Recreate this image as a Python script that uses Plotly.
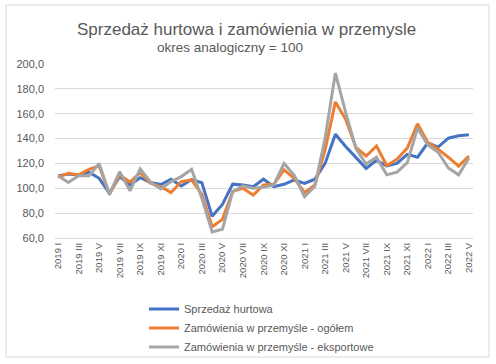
import plotly.graph_objects as go

months = ["2019 I", "2019 II", "2019 III", "2019 IV", "2019 V", "2019 VI", "2019 VII", "2019 VIII",
          "2019 IX", "2019 X", "2019 XI", "2019 XII",
          "2020 I", "2020 II", "2020 III", "2020 IV", "2020 V", "2020 VI", "2020 VII", "2020 VIII",
          "2020 IX", "2020 X", "2020 XI", "2020 XII",
          "2021 I", "2021 II", "2021 III", "2021 IV", "2021 V", "2021 VI", "2021 VII", "2021 VIII",
          "2021 IX", "2021 X", "2021 XI", "2021 XII",
          "2022 I", "2022 II", "2022 III", "2022 IV", "2022 V"]

sprzedaz_hurtowa = [110, 111.5, 110.5, 113, 108, 96, 109.5, 102.7, 108.5, 104.6, 103, 107.3,
                    101.9, 107, 104.5, 77.5, 87, 103.3, 102.7, 101.3, 107.3, 101.3, 103.2, 106.7,
                    104, 107.3, 120, 143.5, 133.6, 125, 116, 122.5, 118, 120, 127.3, 125,
                    136.5, 133.2, 140.3, 142.3, 143]

zamowienia_ogolem = [109, 112, 110.8, 115.3, 118, 95.2, 110.8, 105, 112.6, 104, 101.3, 96.5,
                     105.4, 106.7, 95, 69, 75, 97.5, 100, 94.6, 102.7, 103.2, 114.8, 108,
                     96.5, 102.7, 131, 169.5, 155.5, 133, 126, 134, 118.3, 123.4, 132.3, 151.9,
                     136.8, 131.5, 125, 117.8, 126]

zamowienia_eksport = [110, 104.6, 110, 110, 120, 95.2, 113.4, 98, 115.6, 105, 99.5, 105.4,
                      109.4, 115.2, 92, 64.8, 67, 97.3, 101.9, 100, 100.8, 102.7, 120, 110.5,
                      93.3, 101.6, 140.3, 192.7, 161, 132, 119.5, 125, 110.8, 113, 120.7, 148.4,
                      134.8, 129, 116.3, 110.8, 124.2]

series_names = ["Sprzedaż hurtowa", "Zamówienia w przemyśle - ogółem", "Zamówienia w przemyśle - eksportowe"]
series_values = [sprzedaz_hurtowa, zamowienia_ogolem, zamowienia_eksport]
series_colors = ["#4472C4", "#ED7D31", "#A5A5A5"]

y_ticks = [60, 80, 100, 120, 140, 160, 180, 200]

FONT = "Liberation Sans"
TXT = "#595959"

fig = go.Figure()
for name, vals, col in zip(series_names, series_values, series_colors):
    fig.add_trace(go.Scatter(x=months, y=vals, mode="lines", name=name,
                             line=dict(color=col, width=3)))

fig.update_layout(
    width=496, height=364,
    paper_bgcolor="white", plot_bgcolor="white",
    margin=dict(l=55, r=23, t=64, b=126, autoexpand=False),
    separators=", ",
    showlegend=True,
    legend=dict(orientation="v", x=0.213, xanchor="left", y=-0.325, yanchor="top",
                font=dict(family=FONT, size=11, color=TXT), bgcolor="rgba(0,0,0,0)",
                tracegroupgap=0, itemwidth=30),
    xaxis=dict(type="category", tickvals=months[::2], ticktext=months[::2],
               tickangle=-90, range=[-0.3, 40.4], showgrid=False, automargin=False,
               showline=True, linecolor="#D9D9D9", linewidth=1,
               tickfont=dict(family=FONT, size=9.5, color=TXT), ticks=""),
    yaxis=dict(range=[60, 200], tickvals=y_ticks, tickformat=".1f", automargin=False,
               showgrid=True, gridcolor="#D9D9D9", gridwidth=1, zeroline=False,
               tickfont=dict(family=FONT, size=11, color=TXT), ticks="", ticklen=0,
               ticklabelstandoff=10, showline=False),
    annotations=[
        dict(text="Sprzedaż hurtowa i zamówienia w przemysle", xref="paper", yref="paper",
             x=(246 - 55) / 418, y=(238 - 30) / 174, xanchor="center", yanchor="middle",
             showarrow=False, font=dict(family=FONT, size=17, color=TXT)),
        dict(text="okres analogiczny = 100", xref="paper", yref="paper",
             x=(230 - 55) / 418, y=(238 - 47) / 174, xanchor="center", yanchor="middle",
             showarrow=False, font=dict(family=FONT, size=13.5, color=TXT)),
    ],
    shapes=[dict(type="rect", xref="paper", yref="paper",
                 x0=(6 - 55) / 418, x1=(489 - 55) / 418, y0=(238 - 357) / 174, y1=(238 - 5) / 174,
                 line=dict(color="#D9D9D9", width=1), fillcolor="rgba(0,0,0,0)", layer="below")],
)

fig.write_html("out.html", config={"displayModeBar": False},
               post_script="document.body.style.margin='0';document.body.style.padding='0';")
